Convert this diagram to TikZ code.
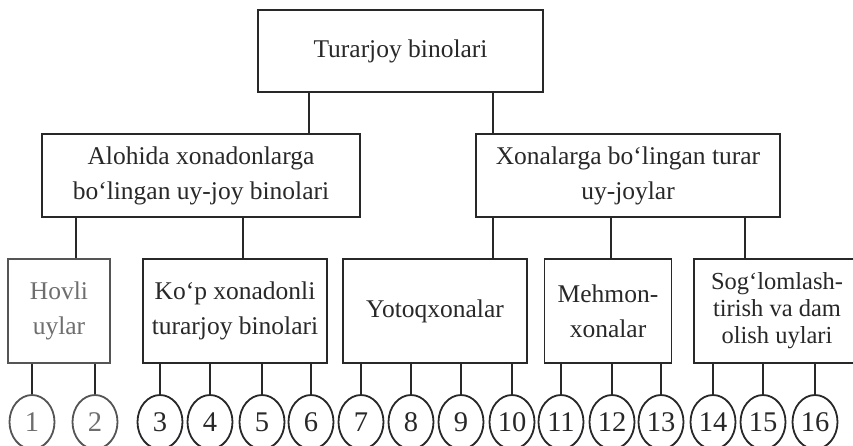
\documentclass[tikz,border=0pt]{standalone}
\usepackage{fontspec}
\setmainfont{Liberation Serif}
\usetikzlibrary{shapes.geometric}
\definecolor{ink}{RGB}{40,40,40}
\definecolor{faint}{RGB}{110,110,110}
\definecolor{faintline}{RGB}{85,85,85}
\begin{document}
\begin{tikzpicture}[x=1pt,y=-1pt,
  box/.style={draw=ink,line width=1.4pt,rectangle,inner sep=0pt,align=center,
    font=\fontsize{25.5}{35}\selectfont,text=ink},
  num/.style={draw=ink,line width=1.8pt,ellipse,inner sep=0pt,minimum width=45pt,
    minimum height=54pt,font=\fontsize{28.5}{28.5}\selectfont,text=ink},
  link/.style={draw=ink,line width=1.4pt}]
\clip (0,0) rectangle (853,445);
\fill[white] (0,0) rectangle (853,445);
% top
\node[box,minimum width=285pt,minimum height=82pt] (top) at (400.5,51) {Turarjoy binolari};
% second level
\node[box,minimum width=318pt,minimum height=83pt] (L) at (201,175.5) {Alohida xonadonlarga\\bo‘lingan uy-joy binolari};
\node[box,minimum width=304pt,minimum height=83pt] (R) at (628,175.5) {Xonalarga bo‘lingan turar\\uy-joylar};
% third level
\node[box,draw=faintline,text=faint,minimum width=102pt,minimum height=104pt] (hov) at (59,311) {Hovli\\uylar};
\node[box,minimum width=184pt,minimum height=104pt] (kop) at (235,311) {Ko‘p xonadonli\\turarjoy binolari};
\node[box,minimum width=184pt,minimum height=104pt] (yot) at (435,311) {Yotoqxonalar};
\node[box,minimum width=127pt,minimum height=104pt] (meh) at (608,311) {Mehmon-\\xonalar};
\node[box,minimum width=166pt,minimum height=104pt,font=\fontsize{24.5}{27}\selectfont] (sog) at (777,311) {Sog‘lomlash-\\tirish va dam\\olish uylari};
% branch coordinates
\coordinate (a1) at (309,0);
\coordinate (a2) at (493,0);
\coordinate (b1) at (76,0);
\coordinate (b2) at (243,0);
\coordinate (b3) at (493,0);
\coordinate (b4) at (611,0);
\coordinate (b5) at (745,0);
\draw[link] (top.south -| a1) -- (L.north -| a1);
\draw[link] (top.south -| a2) -- (R.north -| a2);
\draw[link] (L.south -| b1) -- (hov.north -| b1);
\draw[link] (L.south -| b2) -- (kop.north -| b2);
\draw[link] (R.south -| b3) -- (yot.north -| b3);
\draw[link] (R.south -| b4) -- (meh.north -| b4);
\draw[link] (R.south -| b5) -- (sog.north -| b5);
% circles
\node[num,draw=faintline,text=faint] (c1) at (32,422) {1};
\node[num,draw=faintline,text=faint] (c2) at (95,422) {2};
\node[num] (c3) at (160,422) {3};
\node[num] (c4) at (210,422) {4};
\node[num] (c5) at (262,422) {5};
\node[num] (c6) at (311,422) {6};
\node[num] (c7) at (361,422) {7};
\node[num] (c8) at (411,422) {8};
\node[num] (c9) at (461,422) {9};
\node[num] (c10) at (512,422) {10};
\node[num] (c11) at (561,422) {11};
\node[num] (c12) at (612,422) {12};
\node[num] (c13) at (661,422) {13};
\node[num] (c14) at (713,422) {14};
\node[num] (c15) at (763,422) {15};
\node[num] (c16) at (815,422) {16};
\foreach \c/\b in {c1/hov,c2/hov,c3/kop,c4/kop,c5/kop,c6/kop,c7/yot,c8/yot,c9/yot,c10/yot,c11/meh,c12/meh,c13/meh,c14/sog,c15/sog,c16/sog}
  \draw[link] (\b.south -| \c.north) -- (\c.north);
\end{tikzpicture}
\end{document}
